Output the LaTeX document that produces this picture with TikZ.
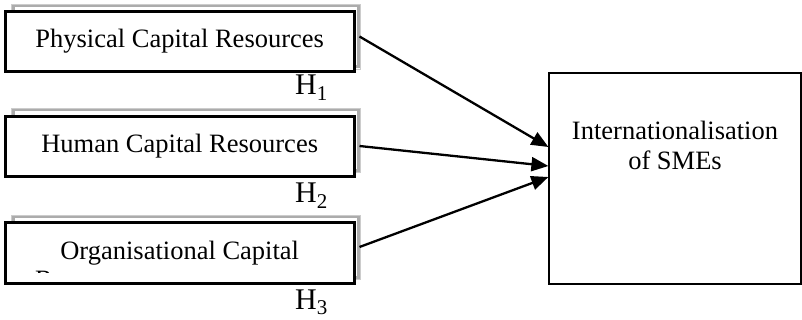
\documentclass[tikz,border=0pt]{standalone}
\usepackage{fontspec}
\setmainfont{Liberation Serif}
\usetikzlibrary{arrows.meta}

\begin{document}
\begin{tikzpicture}[x=1pt, y=-1pt,
        resource/.style={draw, fill=white, line width=3pt, minimum width=349pt,
            minimum height=60pt, inner sep=0pt, font=\fontsize{26.5}{30}\selectfont},
        resshadow/.style={draw=gray!65, line width=3pt, minimum width=345pt,
            minimum height=61pt, inner sep=0pt},
        hyp/.style={anchor=base west, inner sep=0pt, font=\fontsize{30}{32}\selectfont},
        link/.style={line width=2.3pt, -{Triangle[length=17pt, width=14pt]}}]

        \useasboundingbox (0, 0) rectangle (802, 320);

        \newcommand{\boxx}{179.7}
        \newcommand{\shx}{185.5}

        % grey shadows behind the three boxes
        \node [resshadow] (physbg) at (\shx, 36.5) {};
        \node [resshadow] (humanbg) at (\shx, 140) {};
        \node [resshadow] (orgbg) at (\shx, 247) {};
        \draw [gray!40, line width=0.8pt] (11, 4) rectangle (360, 69);
        \draw [gray!40, line width=0.8pt] (11, 108) rectangle (360, 172);
        \draw [gray!40, line width=0.8pt] (11, 215) rectangle (360, 279);

        \node [resource] (phys) at (\boxx, 41.4) {Physical Capital Resources};
        \node [resource] (human) at (\boxx, 146.5) {Human Capital Resources};
        \node [resource] (org) at (\boxx, 253) {Organisational Capital};

        % second line of the last box is cut off by the box
        \begin{scope}
            \clip (8, 240) rectangle (350, 272.5);
            \node [anchor=base west, inner sep=0pt, font=\fontsize{26.5}{30}\selectfont]
                (orgrest) at (35, 288.5) {Resources};
        \end{scope}

        \node [hyp] (h1) at (295, 95) {H\textsubscript{1}};
        \node [hyp] (h2) at (295, 203) {H\textsubscript{2}};
        \node [hyp] (h3) at (295, 309.5) {H\textsubscript{3}};

        \node [draw, line width=1.2pt, minimum width=252pt, minimum height=211pt,
            label={[anchor=north, yshift=-49pt, inner sep=0pt, align=center,
                font=\fontsize{26.5}{30}\selectfont]north:{Internationalisation\\of SMEs}}]
            (intl) at (675, 178.5) {};

        \draw [link] (physbg.east) -- ([yshift=31.5pt]intl.west);
        \draw [link] ([yshift=-6pt]humanbg.east) -- ([yshift=12.5pt]intl.west);
        \draw [link] (orgbg.east) -- ([yshift=1.5pt]intl.west);

    \end{tikzpicture}
\end{document}
